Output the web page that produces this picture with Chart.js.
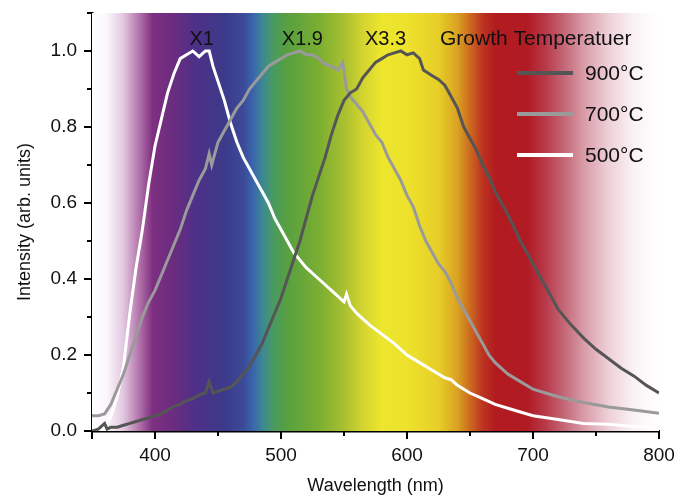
<!DOCTYPE html>
<html lang="en">
<head>
  <meta charset="UTF-8">
  <title>PL spectra vs growth temperature</title>
  <script src="https://cdn.jsdelivr.net/npm/chart.js"></script>
  <style>
    body { margin:0; background:#fff; }
    #wrap { width:680px; height:497px; position:relative; }
  </style>
</head>
<body>
  <div id="wrap"><canvas id="plChart"></canvas></div>
  <script>
    // data (wavelength in nm, normalised intensity)
    const seriesLabels = ['900°C', '700°C', '500°C'];
    const peakLabels = ['X1', 'X1.9', 'X3.3'];
    const peakPos = [437, 517, 583];

    const wl900 = [350,355,360,362,365,370,375,380,385,390,395,400,405,410,415,420,425,430,435,440,443,446,450,455,460,465,470,475,480,485,490,495,500,505,510,515,520,525,530,535,540,545,550,555,560,565,570,575,580,585,590,595,600,605,610,613,620,625,630,635,640,645,650,655,660,665,670,675,680,690,700,710,720,730,740,750,760,770,780,790,800];
    const int900 = [0.0,0.005,0.02,0.005,0.01,0.01,0.015,0.02,0.025,0.03,0.035,0.04,0.045,0.055,0.065,0.07,0.08,0.085,0.095,0.10,0.13,0.10,0.105,0.11,0.115,0.13,0.15,0.17,0.20,0.23,0.27,0.31,0.35,0.40,0.45,0.50,0.56,0.62,0.67,0.72,0.78,0.83,0.87,0.89,0.90,0.93,0.95,0.97,0.98,0.99,0.995,1.0,0.99,0.995,0.98,0.95,0.935,0.925,0.91,0.88,0.85,0.80,0.77,0.74,0.70,0.67,0.63,0.60,0.57,0.50,0.44,0.38,0.32,0.28,0.245,0.215,0.19,0.165,0.145,0.12,0.10];

    const wl700 = [350,355,360,365,370,375,380,385,390,395,400,405,410,415,420,425,430,435,440,443,445,450,455,460,465,470,475,480,485,490,495,500,505,510,515,520,525,530,535,540,545,549,552,555,560,565,570,575,580,585,590,595,600,605,610,615,620,625,630,635,640,645,650,655,660,665,670,680,690,700,710,720,740,760,780,800];
    const int700 = [0.04,0.04,0.045,0.07,0.11,0.15,0.20,0.25,0.30,0.34,0.37,0.41,0.45,0.49,0.53,0.58,0.62,0.66,0.69,0.73,0.70,0.76,0.79,0.82,0.85,0.87,0.90,0.92,0.94,0.96,0.97,0.98,0.99,0.995,1.0,0.99,0.99,0.98,0.965,0.96,0.95,0.97,0.90,0.88,0.86,0.84,0.81,0.78,0.76,0.72,0.69,0.66,0.62,0.59,0.54,0.50,0.47,0.44,0.42,0.39,0.35,0.32,0.29,0.26,0.23,0.20,0.18,0.15,0.13,0.11,0.10,0.09,0.075,0.063,0.055,0.047];

    const wl500 = [350,355,360,365,370,375,380,385,390,395,400,405,410,415,420,425,430,435,440,443,446,450,455,460,465,470,475,480,485,490,495,500,510,520,530,540,550,552,555,560,570,580,590,600,610,620,630,635,640,650,660,670,680,690,700,720,740,760,780,800];
    const int500 = [0.0,0.0,0.01,0.04,0.09,0.17,0.31,0.43,0.53,0.65,0.75,0.82,0.89,0.94,0.98,0.99,1.0,0.985,1.0,1.0,0.96,0.92,0.87,0.81,0.76,0.72,0.69,0.66,0.63,0.60,0.56,0.53,0.47,0.43,0.40,0.37,0.34,0.36,0.33,0.31,0.28,0.255,0.23,0.20,0.18,0.16,0.14,0.135,0.12,0.10,0.085,0.07,0.06,0.05,0.04,0.03,0.02,0.018,0.012,0.01];

    const lineColors = ['#555555', '#9a9a9a', '#ffffff'];
    const FONT = '"Liberation Sans", Arial, sans-serif';

    const spectrumBg = {
      id: 'spectrumBg',
      beforeDatasetsDraw(chart) {
        const {ctx, chartArea: a, scales: {x}} = chart;
        const stops = [
          [350,'#ffffff'],[362,'#fbf6fb'],[375,'#e2c6e0'],[388,'#b070a8'],[398,'#7e2f80'],
          [415,'#6a2c80'],[432,'#4e3088'],[455,'#3c3a8a'],[470,'#3c4a98'],[478,'#3a66ac'],
          [486,'#3c8a90'],[494,'#4a9a60'],[505,'#58a040'],[530,'#7aae32'],[550,'#a8c030'],
          [565,'#d4d430'],[580,'#ece62e'],[600,'#eee22c'],[625,'#e6ce28'],[640,'#daa222'],
          [650,'#cc6a20'],[660,'#bc3420'],[670,'#b21c20'],[695,'#b01a22'],[710,'#b83a4a'],
          [725,'#c46878'],[740,'#d89aa6'],[760,'#eed0d8'],[780,'#faf2f4'],[800,'#ffffff']
        ];
        const g = ctx.createLinearGradient(a.left, 0, a.right, 0);
        stops.forEach(s => {
          const t = (x.getPixelForValue(s[0]) - a.left) / (a.right - a.left);
          g.addColorStop(Math.min(1, Math.max(0, t)), s[1]);
        });
        ctx.save();
        ctx.fillStyle = g;
        ctx.fillRect(a.left, a.top, a.right - a.left, a.bottom - a.top);
        ctx.restore();
      },
      afterDraw(chart) {
        const {ctx, chartArea: a, scales: {x, y}} = chart;
        ctx.save();
        // tick marks, long on labelled values
        ctx.strokeStyle = '#000';
        ctx.lineWidth = 2;
        x.ticks.forEach(t => {
          const px = x.getPixelForValue(t.value);
          const len = t.value % 100 === 0 || t.value === 350 ? 8 : 5;
          ctx.beginPath(); ctx.moveTo(px, a.bottom); ctx.lineTo(px, a.bottom + len); ctx.stroke();
        });
        y.ticks.forEach(t => {
          const py = y.getPixelForValue(t.value);
          const len = Math.round(t.value * 10) % 2 === 0 ? 8 : 5;
          ctx.beginPath(); ctx.moveTo(a.left, py); ctx.lineTo(a.left - len, py); ctx.stroke();
        });
        // peak labels
        ctx.fillStyle = '#111';
        ctx.font = '20px ' + FONT;
        ctx.textAlign = 'center';
        ctx.textBaseline = 'middle';
        peakLabels.forEach((s, i) => ctx.fillText(s, x.getPixelForValue(peakPos[i]), 39));
        // legend
        ctx.font = '21px ' + FONT;
        ctx.textAlign = 'left';
        ctx.fillText('Growth Temperatuer', 440, 39);
        chart.data.datasets.forEach((ds, i) => {
          const ly = 73 + i * 41;
          ctx.strokeStyle = ds.borderColor;
          ctx.lineWidth = 4;
          ctx.beginPath(); ctx.moveTo(517, ly); ctx.lineTo(573, ly); ctx.stroke();
          ctx.fillText(ds.label, 585, ly + 1);
        });
        ctx.restore();
      }
    };

    const toPts = (xs, ys) => xs.map((v, i) => ({x: v, y: ys[i]}));
    const series = [toPts(wl900, int900), toPts(wl700, int700), toPts(wl500, int500)];

    new Chart(document.getElementById('plChart'), {
      type: 'line',
      data: {
        datasets: series.map((d, i) => ({
          label: seriesLabels[i],
          data: d,
          borderColor: lineColors[i],
          borderWidth: 3,
          pointRadius: 0,
          tension: 0,
          fill: false
        }))
      },
      options: {
        responsive: true,
        maintainAspectRatio: false,
        animation: false,
        layout: {padding: {top: 13, right: 21, left: 0, bottom: 0}},
        plugins: {legend: {display: false}, tooltip: {enabled: false}},
        scales: {
          x: {
            type: 'linear', min: 350, max: 800,
            afterFit: s => { s.height = 66; s.paddingLeft = 0; s.paddingRight = 0; },
            grid: {display: false, drawTicks: false},
            border: {display: true, color: '#000', width: 2.5},
            ticks: {
              stepSize: 50, padding: 13, color: '#111', maxRotation: 0, autoSkip: false,
              font: {size: 19, family: FONT},
              callback: v => v % 100 === 0 ? v : ''
            },
            title: {display: true, text: 'Wavelength (nm)', color: '#111', padding: {top: 0, bottom: 0},
              font: {size: 18, family: FONT}}
          },
          y: {
            min: 0, max: 1.1,
            afterFit: s => { s.width = 92; s.paddingTop = 0; s.paddingBottom = 0; },
            grid: {display: false, drawTicks: false},
            border: {display: true, color: '#000', width: 2.5},
            ticks: {
              stepSize: 0.1, padding: 15, color: '#111', autoSkip: false,
              font: {size: 19, family: FONT},
              callback: v => Math.round(v * 10) % 2 === 0 ? v.toFixed(1) : ''
            },
            title: {display: true, text: 'Intensity (arb. units)', color: '#111', padding: {top: 14, bottom: 0},
              font: {size: 18, family: FONT}}
          }
        }
      },
      plugins: [spectrumBg]
    });
  </script>
</body>
</html>
